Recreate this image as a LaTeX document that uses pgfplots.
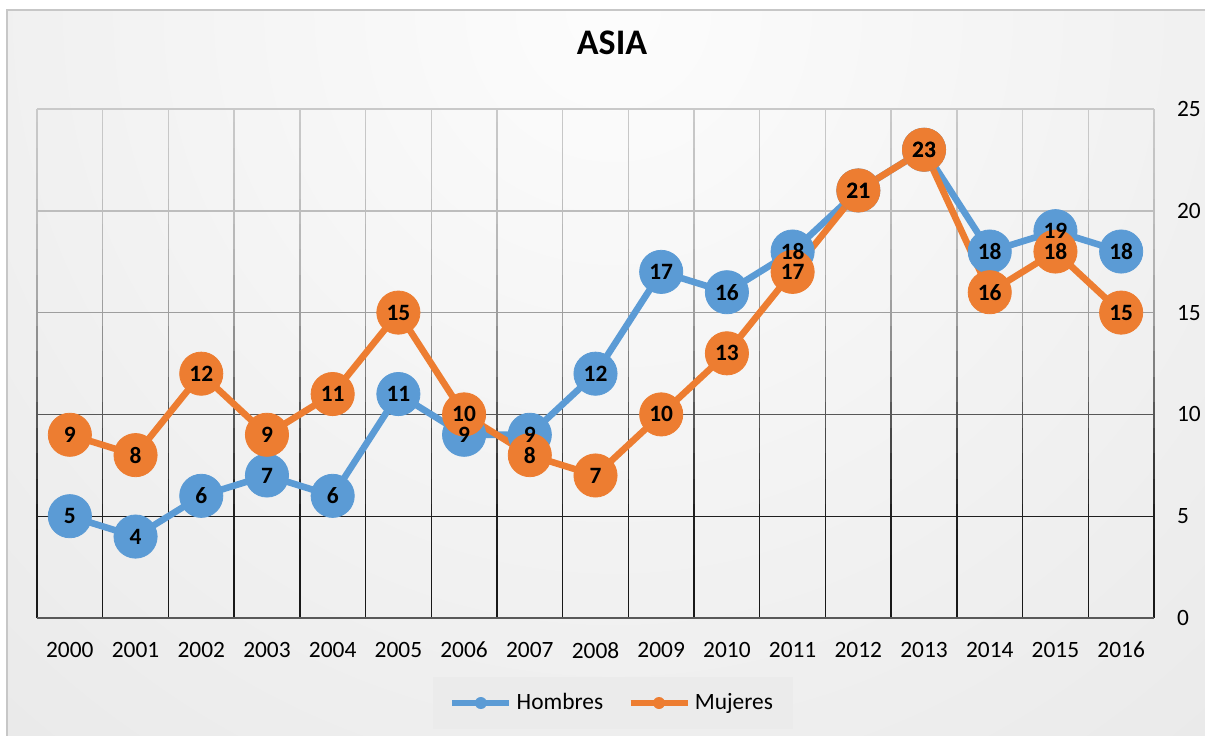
\documentclass[border=0pt]{standalone}
\usepackage{pgfplots}
\pgfplotsset{compat=1.18}
\usepackage{fontspec}
\setmainfont{Carlito}
\definecolor{hblue}{HTML}{5B9BD5}
\definecolor{morange}{HTML}{ED7D31}
\newcommand\tickfont{\fontsize{11.7}{13}\selectfont}
\newcommand\labfont{\fontsize{11.7}{13}\selectfont\bfseries}
\pgfplotsset{/pgf/number format/assume math mode=true,
  gridax/.style={scale only axis, width=558.5pt, height=254.5pt,
    xmin=-0.5, xmax=16.5, ymin=0, ymax=25,
    xtick={-0.5,0.5,...,16.5}, ytick={0,5,...,25},
    xticklabels={}, yticklabels={}, major tick length=0pt,
    axis line style={draw=none}, grid=major}}
\pgfplotstableread{
x h m
0 5 9
1 4 8
2 6 12
3 7 9
4 6 11
5 11 15
6 9 10
7 9 8
8 12 7
9 17 10
10 16 13
11 18 17
12 21 21
13 23 23
14 18 16
15 19 18
16 18 15
}\datatab
\begin{document}
\begin{tikzpicture}
\useasboundingbox (-18.5pt,-58.5pt) rectangle (584pt,309pt);
\fill[white] (-18.5pt,-58.5pt) rectangle (584pt,309pt);
\begin{scope}
\clip (-15pt,-58.5pt) rectangle (584pt,304pt);
\fill[black!18] (-15pt,-58.5pt) rectangle (584pt,304pt);
\shade[inner color=black!1, outer color=black!18] (288pt,304pt) ellipse (1090pt and 1115pt);
\end{scope}
\draw[black!22, line width=1pt] (-15pt,-60pt) -- (-15pt,304pt) -- (590pt,304pt);
\foreach \v/\c in {0/90, 1.25/90, 2.5/90, 3.75/89, 5/88, 6.25/83, 7.5/78, 8.75/72, 10/66, 11.25/58, 12.5/50, 13.75/44, 15/38, 16.25/34, 17.5/30, 18.75/28, 20/26, 21.25/24, 22.5/23, 23.75/22, 25/21} {
  \begin{scope}
  \clip (-2pt,{(\v-0.625)*10.18pt}) rectangle (561pt,{(\v+0.625)*10.18pt});
  \begin{axis}[gridax, major grid style={draw=black!\c, line width=0.7pt}]
  \addplot[draw=none] coordinates {(0,0)};
  \end{axis}
  \end{scope}
}
\begin{axis}[scale only axis, width=558.5pt, height=254.5pt,
  xmin=-0.5, xmax=16.5, ymin=0, ymax=25,
  xtick={0,...,16},
  xticklabels={2000,2001,2002,2003,2004,2005,2006,2007,2008,2009,2010,2011,2012,2013,2014,2015,2016},
  ytick={0,5,...,25}, yticklabel pos=right,
  major tick length=0pt, axis line style={draw=none},
  extra y ticks={0}, extra y tick labels={},
  extra y tick style={grid=major, major grid style={draw=black!65, line width=1.4pt}},
  ticklabel style={font=\tickfont, text=black},
  xticklabel style={yshift=-8.5pt}, yticklabel style={xshift=8pt},
  clip=false,
  title={ASIA},
  title style={at={(0.5148,1)}, anchor=center, yshift=27pt, font=\fontsize{18}{20}\selectfont\bfseries},
  legend columns=2,
  legend style={at={(0.5157,-0.167)}, anchor=center, draw=none, fill=black!8,
    font=\tickfont, inner xsep=8pt, inner ysep=6pt,
    /tikz/every even column/.append style={column sep=10pt}},
  every node near coord/.append style={anchor=center, font=\labfont, text=black},
]
\addplot[hblue, line width=3.3pt, line join=round, mark=*, mark size=10.8pt, mark options={line width=0.4pt},
  legend image code/.code={\draw[line width=3.3pt] (0pt,0pt) -- (28.5pt,0pt); \path[fill=hblue, draw=none, line width=0pt] (14.25pt,0pt) circle (3pt);}]
  table[x=x, y=h] {\datatab};
\addlegendentry{Hombres}
\addplot[morange, line width=3.3pt, line join=round, mark=*, mark size=10.8pt, mark options={line width=0.4pt},
  legend image code/.code={\draw[line width=3.3pt] (0pt,0pt) -- (28.5pt,0pt); \path[fill=morange, draw=none, line width=0pt] (14.25pt,0pt) circle (3pt);}]
  table[x=x, y=m] {\datatab};
\addlegendentry{Mujeres}
\addplot[draw=none, mark=none, forget plot, nodes near coords] table[x=x, y=h] {\datatab};
\addplot[draw=none, mark=none, forget plot, nodes near coords] table[x=x, y=m] {\datatab};
\end{axis}
\end{tikzpicture}
\end{document}
